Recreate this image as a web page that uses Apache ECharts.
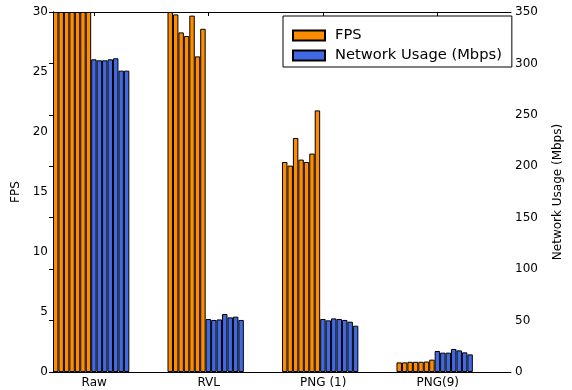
<!DOCTYPE html>
<html>
<head>
<meta charset="utf-8">
<script src="https://cdn.jsdelivr.net/npm/echarts@6/dist/echarts.min.js"></script>
<style>html,body{margin:0;padding:0;background:#fff;}#c{width:572px;height:390px;}</style>
</head>
<body>
<div id="c"></div>
<script>
// ---- data ----
var categories = ['Raw', 'RVL', 'PNG (1)', 'PNG(9)'];
var fpsRaw  = [30, 30, 30, 30, 30, 30, 30];
var fpsRVL  = [30, 29.8, 28.3, 28.0, 29.7, 26.3, 28.6];
var fpsPNG1 = [17.5, 17.2, 19.5, 17.7, 17.5, 18.2, 21.8];
var fpsPNG9 = [0.8, 0.8, 0.85, 0.85, 0.85, 0.87, 1.03];
var netRaw  = [304, 303, 303, 304, 305, 293, 293];
var netRVL  = [51.5, 50.6, 51.1, 56.4, 53.1, 53.8, 50.6];
var netPNG1 = [51.5, 50.2, 52.1, 51.5, 50.6, 48.9, 45.0];
var netPNG9 = [20.4, 18.8, 18.8, 22.4, 21.0, 19.1, 17.1];
var fpsTicks = [0, 5, 10, 15, 20, 25, 30];
var netTicks = [0, 50, 100, 150, 200, 250, 300, 350];
var fpsName = 'FPS';
var netName = 'Network Usage (Mbps)';

// ---- layout ----
var FONT = 'DejaVu Sans';
var ORANGE = '#FF8C00', BLUE = '#4169E1';
var labelOffset = 0.36; // label position inside each category band (band units)
var nRuns = fpsRaw.length;

var fpsGroups = [fpsRaw, fpsRVL, fpsPNG1, fpsPNG9];
var netGroups = [netRaw, netRVL, netPNG1, netPNG9];

var series = [];
for (var i = 0; i < nRuns; i++) {
  series.push({
    name: fpsName, type: 'bar', xAxisIndex: 0, yAxisIndex: 0,
    data: fpsGroups.map(function (g) { return g[i]; }),
    itemStyle: { color: ORANGE, borderColor: '#000', borderWidth: 1 },
    barGap: '0%', barCategoryGap: '0%', emphasis: { disabled: true }
  });
}
for (var j = 0; j < nRuns; j++) {
  series.push({
    name: netName, type: 'bar', xAxisIndex: 0, yAxisIndex: 1,
    data: netGroups.map(function (g) { return g[j]; }),
    itemStyle: { color: BLUE, borderColor: '#000', borderWidth: 1 },
    barGap: '0%', barCategoryGap: '0%', emphasis: { disabled: true }
  });
}
// empty slots so each group sits at the left of its band
for (var k = 0; k < nRuns; k++) {
  series.push({
    name: 'spacer' + k, type: 'bar', xAxisIndex: 0, yAxisIndex: 0,
    data: categories.map(function () { return null; }),
    barGap: '0%', barCategoryGap: '0%', silent: true
  });
}

var labelPos = categories.map(function (c, i) { return i + labelOffset; });

var chart = echarts.init(document.getElementById('c'), null, { renderer: 'canvas' });
chart.setOption({
  animation: false,
  backgroundColor: '#fff',
  textStyle: { fontFamily: FONT },
  grid: { left: 53, top: 12, width: 465, height: 360, containLabel: false },
  legend: {
    data: [fpsName, netName],
    orient: 'vertical',
    left: 283, top: 16,
    backgroundColor: '#fff',
    borderColor: '#000', borderWidth: 1, borderRadius: 0,
    padding: [12, 10, 4, 9],
    itemWidth: 32, itemHeight: 10, itemGap: 5,
    icon: 'rect',
    textStyle: { fontFamily: FONT, fontSize: 14.7, color: '#000', padding: [0, 0, 0, 5] },
    selectedMode: false,
    z: 10
  },
  xAxis: [
    { type: 'category', data: categories, show: false, gridIndex: 0 },
    {
      type: 'value', position: 'bottom', min: 0, max: categories.length,
      axisLine: { show: true, lineStyle: { color: '#000', width: 1 } },
      axisTick: { show: false },
      splitLine: { show: false },
      axisLabel: {
        customValues: labelPos, color: '#000', fontSize: 12, fontFamily: FONT, margin: 5,
        formatter: function (v) { return categories[Math.round(v - labelOffset)]; }
      }
    },
    {
      type: 'value', position: 'top', min: 0, max: categories.length,
      axisLine: { show: true, lineStyle: { color: '#000', width: 1 } },
      axisTick: { show: true, inside: true, length: 4, customValues: labelPos, lineStyle: { color: '#000' } },
      splitLine: { show: false },
      axisLabel: { show: false }
    }
  ],
  yAxis: [
    {
      type: 'value', position: 'left', min: fpsTicks[0], max: fpsTicks[fpsTicks.length - 1], interval: fpsTicks[1] - fpsTicks[0],
      name: fpsName, nameLocation: 'middle', nameGap: 28, nameRotate: 90,
      nameTextStyle: { color: '#000', fontSize: 12, fontFamily: FONT },
      axisLine: { show: true, lineStyle: { color: '#000', width: 1 } },
      axisTick: { show: true, inside: true, length: 4, lineStyle: { color: '#000' } },
      splitLine: { show: false },
      axisLabel: { color: '#000', fontSize: 12, fontFamily: FONT, margin: 5 }
    },
    {
      type: 'value', position: 'right', min: netTicks[0], max: netTicks[netTicks.length - 1], interval: netTicks[1] - netTicks[0],
      name: netName, nameLocation: 'middle', nameGap: 41, nameRotate: 90,
      nameTextStyle: { color: '#000', fontSize: 12, fontFamily: FONT },
      axisLine: { show: true, lineStyle: { color: '#000', width: 1 } },
      axisTick: { show: true, inside: true, length: 4, lineStyle: { color: '#000' } },
      splitLine: { show: false },
      axisLabel: { color: '#000', fontSize: 12, fontFamily: FONT, margin: 4 }
    }
  ],
  series: series
});
</script>
</body>
</html>
